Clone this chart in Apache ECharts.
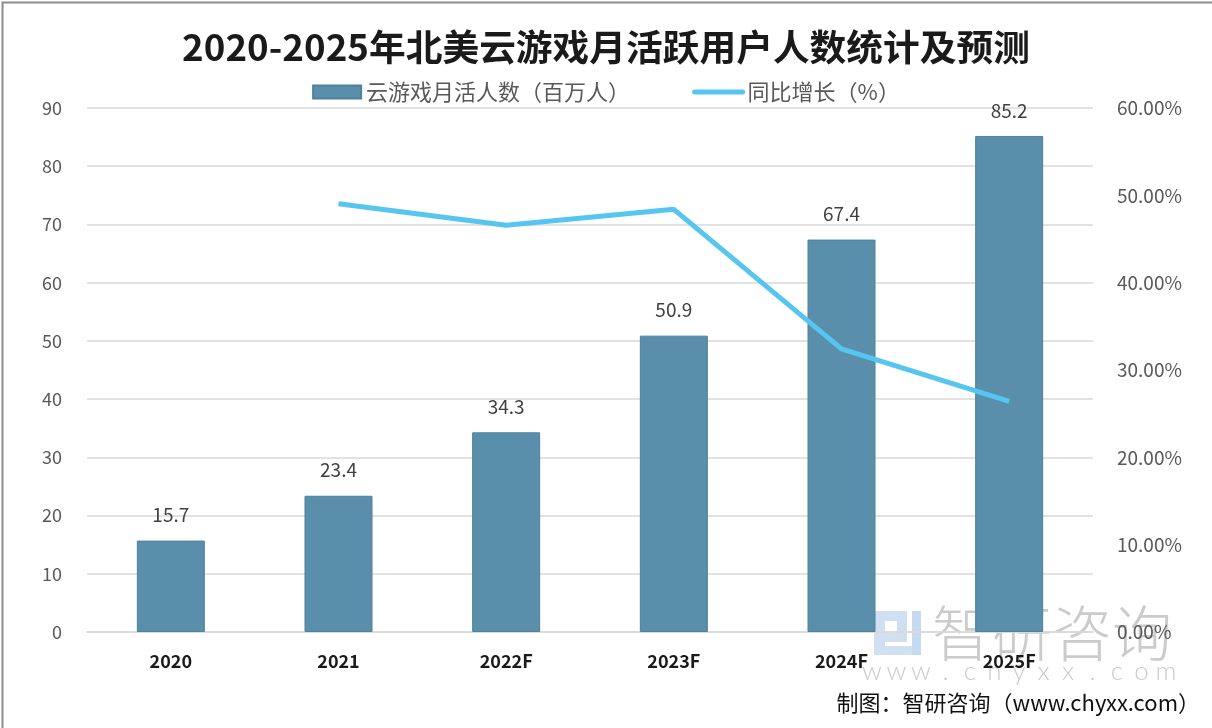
<!DOCTYPE html>
<html>
<head>
<meta charset="utf-8">
<style>
html,body{margin:0;padding:0;background:#fff;}
#chart{width:1212px;height:728px;}
</style>
<script src="https://cdn.jsdelivr.net/npm/echarts@6/dist/echarts.min.js"></script>
</head>
<body>
<div id="chart"></div>
<script>
const categories = ['2020', '2021', '2022F', '2023F', '2024F', '2025F'];
const users = [15.7, 23.4, 34.3, 50.9, 67.4, 85.2];
const growth = [null, 49.04, 46.58, 48.40, 32.42, 26.41];
const leftTicks = { min: 0, max: 90, interval: 10 };
const rightTicks = { min: 0, max: 60, interval: 10 };
const titleText = '2020-2025年北美云游戏月活跃用户人数统计及预测';
const seriesNames = ['云游戏月活人数（百万人）', '同比增长（%）'];
const footerText = '制图：智研咨询（www.chyxx.com）';
const watermarkName = '智研咨询';
const watermarkUrl = 'www.chyxx.com';

const FONT = '"Noto Sans CJK SC", "Noto Sans", sans-serif';
const chart = echarts.init(document.getElementById('chart'));

const wmChars = watermarkUrl.split('').map((ch, i) => ({
  type: 'text', x: 872 + i * 24.5, y: 672,
  style: { text: ch, font: '300 26px Lato, "Open Sans", sans-serif', fill: 'rgba(150,150,150,0.5)',
    textAlign: 'center', textVerticalAlign: 'middle' }
}));

chart.setOption({
  backgroundColor: '#ffffff',
  animation: false,
  textStyle: { fontFamily: FONT },
  legend: {
    top: 76,
    left: 'center',
    itemWidth: 48,
    itemHeight: 13,
    itemGap: 62,
    textStyle: { fontSize: 22, color: '#595959', fontFamily: FONT },
    data: [
      { name: seriesNames[0], icon: 'rect' },
      { name: seriesNames[1], itemStyle: { opacity: 0 }, lineStyle: { width: 5, color: '#56c5f0', cap: 'round' } }
    ]
  },
  grid: { left: 87, right: 119, top: 108, bottom: 96, containLabel: false },
  xAxis: {
    type: 'category',
    data: categories,
    axisTick: { show: false },
    axisLine: { show: true, lineStyle: { color: '#d9d9d9', width: 1.5 } },
    axisLabel: { fontSize: 18, fontWeight: 'bold', color: '#1a1a1a', margin: 20, fontFamily: FONT }
  },
  yAxis: [
    {
      type: 'value',
      min: leftTicks.min, max: leftTicks.max, interval: leftTicks.interval,
      axisLine: { show: false }, axisTick: { show: false },
      splitLine: { lineStyle: { color: '#d9d9d9', width: 1.5 } },
      axisLabel: { fontSize: 18, color: '#595959', margin: 25, fontFamily: FONT }
    },
    {
      type: 'value',
      min: rightTicks.min, max: rightTicks.max, interval: rightTicks.interval,
      axisLine: { show: false }, axisTick: { show: false },
      splitLine: { show: false },
      axisLabel: { fontSize: 19, color: '#595959', margin: 24, fontFamily: FONT,
        formatter: v => v.toFixed(2) + '%' }
    }
  ],
  series: [
    {
      name: seriesNames[0],
      type: 'bar',
      data: users,
      barWidth: 68,
      itemStyle: { color: '#5a8fab', borderColor: '#4f8199', borderWidth: 1 },
      label: { show: true, position: 'top', distance: 16, fontSize: 19, color: '#404040', fontFamily: FONT }
    },
    {
      name: seriesNames[1],
      type: 'line',
      yAxisIndex: 1,
      data: growth,
      symbol: 'none',
      showSymbol: false,
      lineStyle: { color: '#56c5f0', width: 5 },
      itemStyle: { color: '#56c5f0' },
      z: 5
    }
  ],
  graphic: [
    {
      type: 'rect', left: 0, top: 0, z: 100, silent: true,
      shape: { width: 1211, height: 727 },
      style: { fill: 'none', stroke: '#8c8c8c', lineWidth: 2 }
    },
    {
      type: 'text', x: 606, y: 47, scaleX: 1.02, z: 10,
      style: { text: titleText, font: 'bold 36px ' + FONT, fill: '#1a1a1a',
        textAlign: 'center', textVerticalAlign: 'middle' }
    },
    {
      type: 'group', z: 50, silent: true,
      children: [
        { type: 'rect', shape: { x: 874, y: 611, width: 11, height: 44 }, style: { fill: 'rgba(150,185,225,0.45)' } },
        { type: 'rect', shape: { x: 885, y: 611, width: 22, height: 10 }, style: { fill: 'rgba(150,185,225,0.45)' } },
        { type: 'rect', shape: { x: 897, y: 621, width: 10, height: 12 }, style: { fill: 'rgba(150,185,225,0.45)' } },
        { type: 'rect', shape: { x: 885, y: 633, width: 22, height: 9 }, style: { fill: 'rgba(150,185,225,0.45)' } },
        { type: 'rect', shape: { x: 912, y: 611, width: 9, height: 44 }, style: { fill: 'rgba(150,185,225,0.55)' } },
        { type: 'rect', shape: { x: 885, y: 646, width: 27, height: 9 }, style: { fill: 'rgba(150,185,225,0.45)' } },
        { type: 'text', x: 1052, y: 633,
          style: { text: watermarkName, font: '300 60px ' + FONT, fill: 'rgba(140,140,140,0.45)',
            textAlign: 'center', textVerticalAlign: 'middle' } }
      ].concat(wmChars)
    },
    {
      type: 'text', x: 1200, y: 703, z: 60,
      style: { text: footerText, font: '22px ' + FONT, fill: '#111111',
        textAlign: 'right', textVerticalAlign: 'middle' }
    }
  ]
});
</script>
</body>
</html>
